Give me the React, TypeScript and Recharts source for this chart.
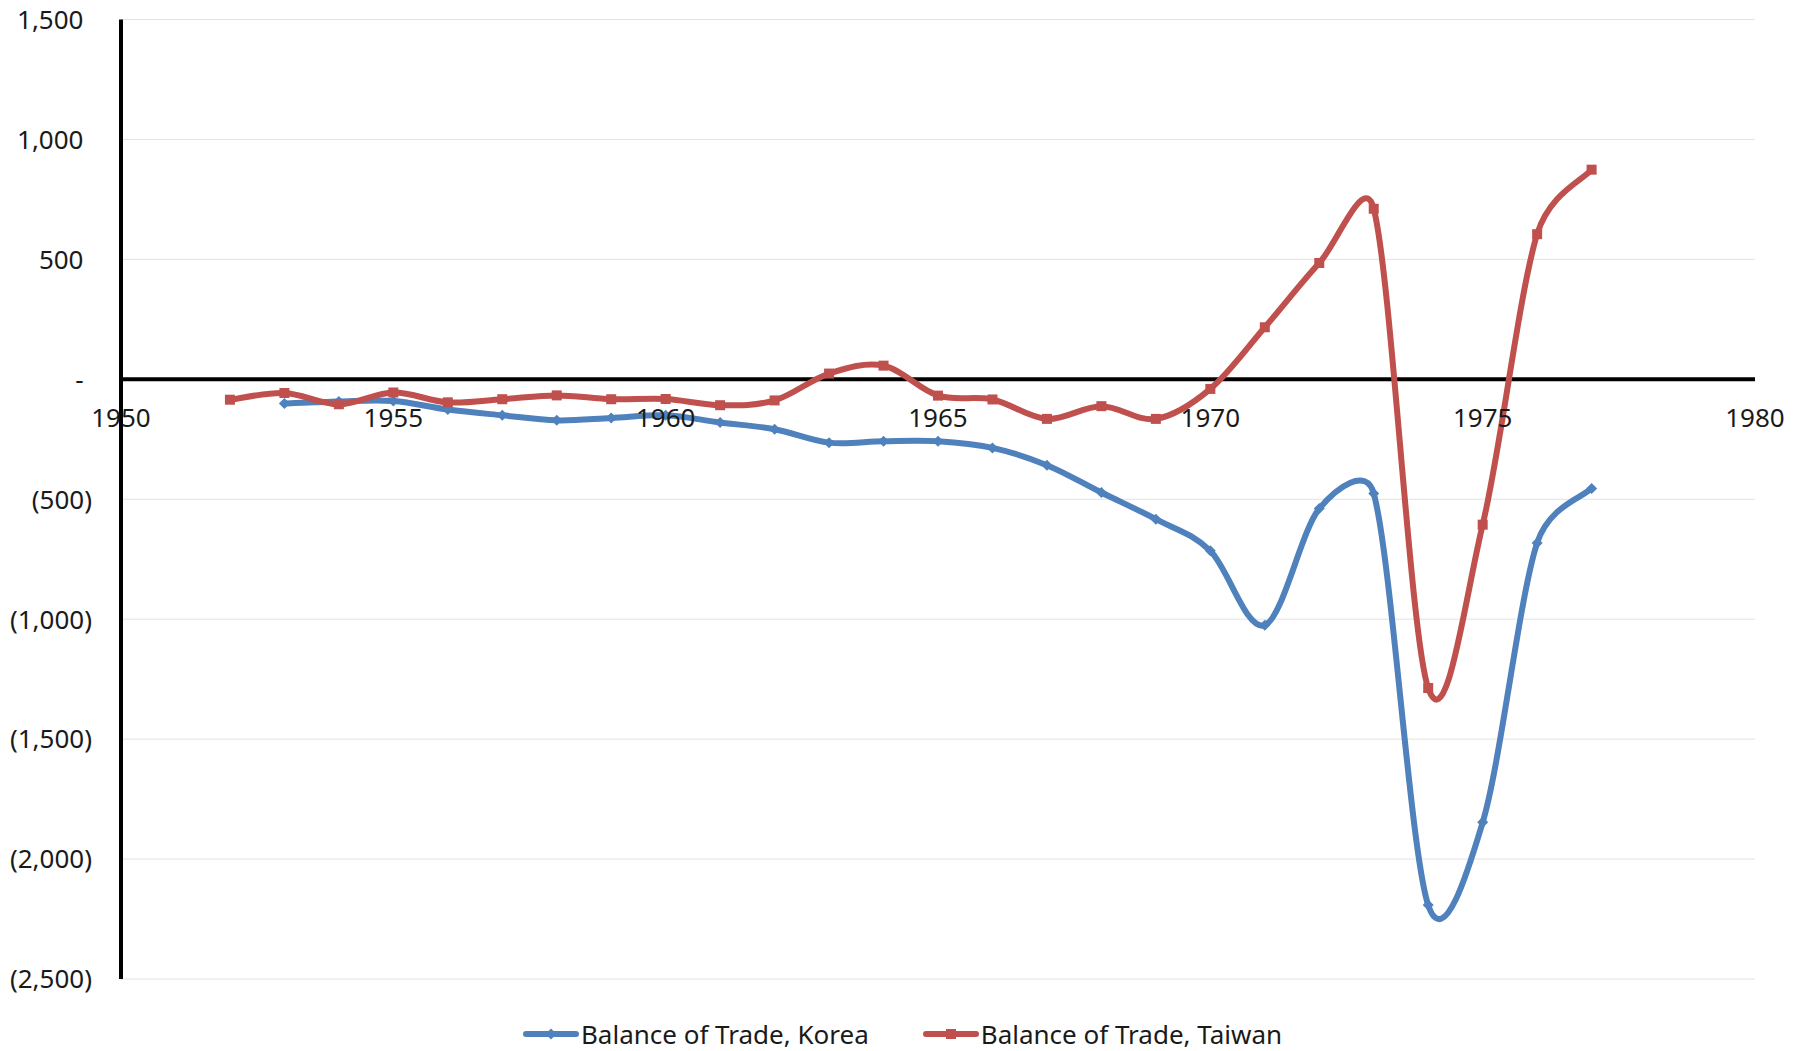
import React from 'react';
import {
  LineChart,
  Line,
  XAxis,
  YAxis,
  CartesianGrid,
  ReferenceLine,
  ReferenceDot,
  Legend,
} from 'recharts';

const years = [
  1952, 1953, 1954, 1955, 1956, 1957, 1958, 1959, 1960, 1961, 1962, 1963, 1964,
  1965, 1966, 1967, 1968, 1969, 1970, 1971, 1972, 1973, 1974, 1975, 1976, 1977,
];
const korea = [
  null, -101, -92, -90, -126, -150, -171, -161, -150, -180, -208, -264, -258,
  -258, -286, -358, -472, -583, -715, -1025, -539, -476, -2192, -1847, -682, -455,
];
const taiwan = [
  -85, -57, -104, -55, -96, -83, -67, -83, -82, -108, -88, 24, 57,
  -68, -84, -165, -112, -165, -40, 217, 485, 711, -1287, -606, 605, 874,
];
const xTicks = [1950, 1955, 1960, 1965, 1970, 1975, 1980];
const yTicks = [-2500, -2000, -1500, -1000, -500, 0, 500, 1000, 1500];

const BLUE = '#4F81BD';
const RED = '#C0504D';
const TEXT = '#1a1a1a';
const FONT = '"Noto Sans", sans-serif';

const data = years.map((year, i) => ({ year, korea: korea[i], taiwan: taiwan[i] }));

// smoothed line like Excel: catmull-rom arms, clamped to half the adjacent segment
const ARM_LIMIT = 0.5;
function smoothCurve(context: any) {
  let pts: [number, number][] = [];
  return {
    areaStart() {},
    areaEnd() {},
    lineStart() {
      pts = [];
    },
    lineEnd() {
      const n = pts.length;
      if (!n) return;
      const dist = (a: [number, number], b: [number, number]) => Math.hypot(b[0] - a[0], b[1] - a[1]);
      const arms = pts.map((p, i) => {
        const p0 = pts[Math.max(0, i - 1)];
        const p2 = pts[Math.min(n - 1, i + 1)];
        const tx = (p2[0] - p0[0]) / 6;
        const ty = (p2[1] - p0[1]) / 6;
        const len = Math.hypot(tx, ty) || 1;
        const sIn = Math.min(1, (ARM_LIMIT * dist(p0, p)) / len);
        const sOut = Math.min(1, (ARM_LIMIT * dist(p, p2)) / len);
        return {
          inX: p[0] - tx * sIn,
          inY: p[1] - ty * sIn,
          outX: p[0] + tx * sOut,
          outY: p[1] + ty * sOut,
        };
      });
      context.moveTo(pts[0][0], pts[0][1]);
      for (let i = 0; i < n - 1; i++) {
        context.bezierCurveTo(
          arms[i].outX,
          arms[i].outY,
          arms[i + 1].inX,
          arms[i + 1].inY,
          pts[i + 1][0],
          pts[i + 1][1],
        );
      }
    },
    point(x: number, y: number) {
      pts.push([+x, +y]);
    },
  };
}

const fmtY = (v: number) => {
  if (v === 0) return '-';
  if (v < 0) return `(${Math.abs(v).toLocaleString('en-US')})`;
  return v.toLocaleString('en-US');
};

const YTick = ({ x, y, payload }: any) => {
  const v = payload.value;
  return (
    <text
      x={x}
      y={y}
      dx={v < 0 ? 0 : -8.5}
      dy="0.36em"
      textAnchor="end"
      fill={TEXT}
      fontSize={26}
      fontFamily={FONT}
    >
      {fmtY(v)}
    </text>
  );
};

const SquareDot = (props: any) => {
  const { cx, cy, index } = props;
  if (cx == null || cy == null) return <g key={`t${index}`} />;
  return <rect key={`t${index}`} x={cx - 5} y={cy - 5} width={10} height={10} fill={RED} />;
};

const DiamondDot = (props: any) => {
  const { cx, cy, index } = props;
  if (cx == null || cy == null) return <g key={`k${index}`} />;
  return (
    <path
      key={`k${index}`}
      d={`M${cx},${cy - 5.5}L${cx + 5.5},${cy}L${cx},${cy + 5.5}L${cx - 5.5},${cy}Z`}
      fill={BLUE}
    />
  );
};

const LegendItem = ({ color, label, square }: { color: string; label: string; square?: boolean }) => (
  <div style={{ display: 'flex', alignItems: 'center' }}>
    <svg width={56} height={20}>
      <line x1={3} y1={10} x2={53} y2={10} stroke={color} strokeWidth={6} strokeLinecap="round" />
      {square ? (
        <rect x={23} y={5} width={10} height={10} fill={color} />
      ) : (
        <path d="M28,4.5L33.5,10L28,15.5L22.5,10Z" fill={color} />
      )}
    </svg>
    <span style={{ marginLeft: 2, fontSize: 26, fontFamily: FONT, color: TEXT, lineHeight: '34px' }}>
      {label}
    </span>
  </div>
);

const LegendContent = () => (
  <div style={{ display: 'flex', justifyContent: 'center', alignItems: 'center', gap: 54, height: 34 }}>
    <LegendItem color={BLUE} label="Balance of Trade, Korea" />
    <LegendItem color={RED} label="Balance of Trade, Taiwan" square />
  </div>
);

export default function App() {
  return (
    <div style={{ width: 1789, height: 1051, marginTop: -8 }}>
      <LineChart
        width={1789}
        height={1051}
        data={data}
        margin={{ top: 19.5, right: 42, left: 0, bottom: 38 }}
      >
        <CartesianGrid
          stroke="#e2e2e2"
          strokeWidth={1}
          horizontalValues={yTicks}
          verticalValues={xTicks}
        />
        <XAxis
          type="number"
          dataKey="year"
          domain={[1950, 1980]}
          ticks={xTicks}
          tick={false}
          tickLine={false}
          axisLine={false}
          height={0}
        />
        <YAxis
          type="number"
          domain={[-2500, 1500]}
          ticks={yTicks}
          width={113}
          tickSize={0}
          tickMargin={29}
          tickLine={false}
          axisLine={{ stroke: '#000', strokeWidth: 4 }}
          tick={<YTick />}
        />
        <ReferenceLine y={0} stroke="#000" strokeWidth={4} />
        {xTicks.map((t) => (
          <ReferenceDot
            key={t}
            x={t}
            y={0}
            r={0}
            fill="none"
            stroke="none"
            label={{
              value: String(t),
              position: 'bottom',
              offset: 29,
              fill: TEXT,
              fontSize: 26,
              fontFamily: FONT,
            }}
          />
        ))}
        <Legend
          verticalAlign="bottom"
          height={34}
          wrapperStyle={{ left: 0, width: '100%', bottom: 0 }}
          content={() => <LegendContent />}
        />
        <Line
          dataKey="korea"
          stroke={BLUE}
          strokeWidth={6}
          strokeLinecap="round"
          type={smoothCurve as any}
          dot={DiamondDot}
          activeDot={false}
          isAnimationActive={false}
        />
        <Line
          dataKey="taiwan"
          stroke={RED}
          strokeWidth={6}
          strokeLinecap="round"
          type={smoothCurve as any}
          dot={SquareDot}
          activeDot={false}
          isAnimationActive={false}
        />
      </LineChart>
    </div>
  );
}
